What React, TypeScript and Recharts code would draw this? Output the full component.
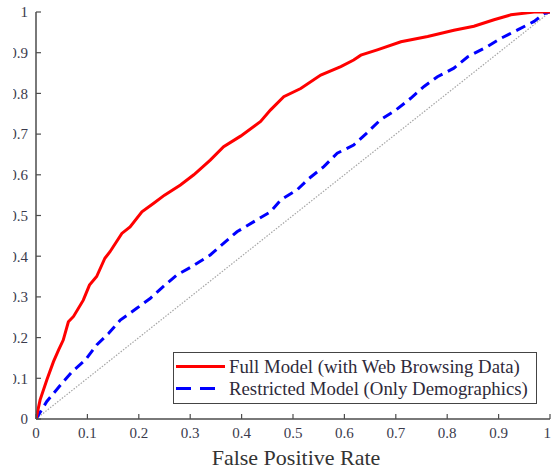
import React from 'react';
import { LineChart, Line, XAxis, YAxis, Label } from 'recharts';

// ROC curve: Full model (with web browsing data)
const fullModelFpr = [
  0, 0.008, 0.021, 0.034, 0.044, 0.053, 0.063, 0.073, 0.092, 0.104, 0.118, 0.134, 0.144,
  0.167, 0.183, 0.206, 0.229, 0.25, 0.281, 0.307, 0.339, 0.365, 0.398, 0.437, 0.456, 0.482,
  0.515, 0.554, 0.593, 0.618, 0.632, 0.664, 0.71, 0.762, 0.813, 0.852, 0.891, 0.924, 0.969, 1,
];
const fullModelTpr = [
  0, 0.047, 0.096, 0.141, 0.17, 0.194, 0.239, 0.252, 0.292, 0.329, 0.35, 0.395, 0.411,
  0.456, 0.472, 0.509, 0.53, 0.55, 0.575, 0.6, 0.636, 0.669, 0.695, 0.731, 0.759, 0.792,
  0.812, 0.845, 0.866, 0.882, 0.894, 0.907, 0.927, 0.94, 0.955, 0.965, 0.981, 0.993, 1.0, 1,
];

// ROC curve: Restricted model (only demographics)
const restrictedFpr = [
  0, 0.021, 0.05, 0.07, 0.096, 0.118, 0.141, 0.164, 0.196, 0.222, 0.248, 0.274, 0.3, 0.339,
  0.391, 0.424, 0.456, 0.476, 0.508, 0.531, 0.56, 0.586, 0.618, 0.643, 0.67, 0.7, 0.729,
  0.755, 0.781, 0.813, 0.84, 0.878, 0.904, 0.937, 0.969, 0.989, 1,
];
const restrictedTpr = [
  0, 0.043, 0.087, 0.116, 0.145, 0.182, 0.21, 0.243, 0.272, 0.296, 0.326, 0.354, 0.372, 0.403,
  0.46, 0.485, 0.509, 0.538, 0.563, 0.591, 0.62, 0.653, 0.673, 0.702, 0.735, 0.759, 0.788,
  0.817, 0.841, 0.862, 0.89, 0.915, 0.935, 0.956, 0.977, 0.996, 1,
];

// Chance diagonal
const chanceFpr = [0, 1];
const chanceTpr = [0, 1];

const xTicks = [0, 0.1, 0.2, 0.3, 0.4, 0.5, 0.6, 0.7, 0.8, 0.9, 1];
const yTicks = [0, 0.1, 0.2, 0.3, 0.4, 0.5, 0.6, 0.7, 0.8, 0.9, 1];
const seriesNames = ['Full Model (with Web Browsing Data)', 'Restricted Model (Only Demographics)'];
const xAxisTitle = 'False Positive Rate';

const toPoints = (xs: number[], ys: number[]) => xs.map((x, i) => ({ x, y: ys[i] }));

const fullData = toPoints(fullModelFpr, fullModelTpr);
const restrictedData = toPoints(restrictedFpr, restrictedTpr);
const chanceData = toPoints(chanceFpr, chanceTpr);

const FONT = "'Liberation Serif', 'Times New Roman', Times, serif";
const AXIS_COLOR = '#4d4d4d';
const TICK_TEXT = { fill: '#3a3a4c', fontSize: 15, fontFamily: FONT };

export default function App() {
  return (
    <div style={{ position: 'absolute', left: 0, top: 0, width: 551, height: 472, background: '#fff' }}>
      <div style={{ position: 'absolute', left: 13, top: 0, width: 538, height: 472, overflow: 'hidden' }}>
        <div style={{ position: 'absolute', left: -13, top: 0 }}>
          <LineChart width={551} height={472} margin={{ top: 12, right: 1, bottom: 0, left: 0 }}>
            <XAxis
              xAxisId="bottom"
              type="number"
              dataKey="x"
              domain={[0, 1]}
              ticks={xTicks}
              allowDataOverflow
              height={53}
              tickSize={-5}
              tickMargin={13}
              tick={TICK_TEXT}
              axisLine={{ stroke: AXIS_COLOR, strokeWidth: 1.5 }}
              tickLine={{ stroke: AXIS_COLOR, strokeWidth: 1.2 }}
            >
              <Label
                value={xAxisTitle}
                position="insideBottom"
                offset={7}
                dx={3}
                fill="#333"
                fontSize={22}
                fontFamily={FONT}
              />
            </XAxis>
            <XAxis
              xAxisId="top"
              orientation="top"
              type="number"
              dataKey="x"
              domain={[0, 1]}
              ticks={xTicks}
              height={0}
              tickSize={-5}
              tick={false}
              axisLine={{ stroke: AXIS_COLOR, strokeWidth: 1.5 }}
              tickLine={{ stroke: AXIS_COLOR, strokeWidth: 1.2 }}
            />
            <YAxis
              yAxisId="left"
              type="number"
              domain={[0, 1]}
              ticks={yTicks}
              allowDataOverflow
              width={36}
              tickSize={-5}
              tickMargin={13}
              tick={TICK_TEXT}
              axisLine={{ stroke: AXIS_COLOR, strokeWidth: 1.5 }}
              tickLine={{ stroke: AXIS_COLOR, strokeWidth: 1.2 }}
            />
            <YAxis
              yAxisId="right"
              orientation="right"
              type="number"
              domain={[0, 1]}
              ticks={yTicks}
              width={0}
              tickSize={-5}
              tick={false}
              axisLine={{ stroke: AXIS_COLOR, strokeWidth: 1.5 }}
              tickLine={{ stroke: AXIS_COLOR, strokeWidth: 1.2 }}
            />
            <Line
              xAxisId="bottom"
              yAxisId="left"
              data={chanceData}
              dataKey="y"
              type="linear"
              stroke="#a6a6a6"
              strokeWidth={1.2}
              strokeDasharray="1.5 1.5"
              dot={false}
              activeDot={false}
              isAnimationActive={false}
            />
            <Line
              xAxisId="bottom"
              yAxisId="left"
              data={restrictedData}
              dataKey="y"
              name={seriesNames[1]}
              type="linear"
              stroke="#0000ff"
              strokeWidth={3}
              strokeDasharray="10 6"
              dot={false}
              activeDot={false}
              isAnimationActive={false}
            />
            <Line
              xAxisId="bottom"
              yAxisId="left"
              data={fullData}
              dataKey="y"
              name={seriesNames[0]}
              type="linear"
              stroke="#ff0000"
              strokeWidth={3}
              dot={false}
              activeDot={false}
              isAnimationActive={false}
            />
          </LineChart>
        </div>
      </div>
      <div
        style={{
          position: 'absolute',
          left: 173,
          top: 352,
          width: 364,
          height: 52,
          boxSizing: 'border-box',
          border: '1.5px solid #444',
          background: '#fff',
        }}
      >
        <svg width={361} height={49} style={{ display: 'block' }}>
          <line x1={2} y1={13.5} x2={51} y2={13.5} stroke="#ff0000" strokeWidth={3} />
          <text x={55} y={19.5} fill="#2e2a3a" fontSize={18.8} fontFamily={FONT}>
            {seriesNames[0]}
          </text>
          <line x1={2} y1={35.5} x2={41} y2={35.5} stroke="#0000ff" strokeWidth={3} strokeDasharray="15 9" />
          <text x={55} y={41.5} fill="#2e2a3a" fontSize={18.8} fontFamily={FONT}>
            {seriesNames[1]}
          </text>
        </svg>
      </div>
    </div>
  );
}
